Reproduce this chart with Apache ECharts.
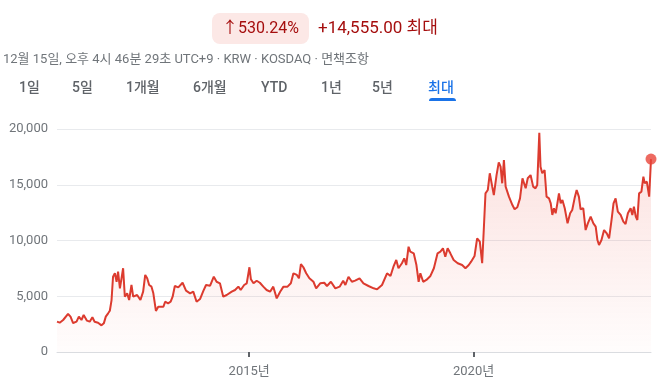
<!DOCTYPE html>
<html><head><meta charset="utf-8">
<script src="https://cdn.jsdelivr.net/npm/echarts@6/dist/echarts.min.js"></script>
<style>html,body{margin:0;padding:0;background:#fff}#c{width:666px;height:384px}</style>
</head><body><div id="c"></div>
<script>
const dates = ["2010-09-20","2010-10-12","2010-11-09","2010-12-19","2011-01-08","2011-01-29","2011-02-26","2011-03-17","2011-04-07","2011-04-25","2011-05-22","2011-06-13","2011-07-05","2011-07-23","2011-08-20","2011-09-17","2011-10-06","2011-10-22","2011-11-10","2011-11-24","2011-12-08","2011-12-20","2012-01-04","2012-01-18","2012-01-30","2012-02-14","2012-02-27","2012-03-11","2012-03-25","2012-04-13","2012-04-29","2012-05-18","2012-06-01","2012-07-03","2012-07-30","2012-08-21","2012-09-07","2012-09-23","2012-10-09","2012-10-28","2012-11-12","2012-12-03","2012-12-22","2013-02-02","2013-02-16","2013-03-12","2013-04-02","2013-04-18","2013-05-06","2013-06-03","2013-07-08","2013-08-05","2013-09-07","2013-10-03","2013-10-30","2013-11-27","2013-12-24","2014-01-15","2014-02-17","2014-03-19","2014-04-11","2014-05-08","2014-06-04","2014-07-02","2014-08-12","2014-09-08","2014-10-05","2014-10-24","2014-11-21","2014-12-12","2015-01-03","2015-01-15","2015-02-05","2015-03-03","2015-03-29","2015-04-26","2015-05-23","2015-06-20","2015-07-16","2015-08-13","2015-09-10","2015-10-07","2015-11-09","2015-12-06","2015-12-27","2016-01-24","2016-02-10","2016-02-26","2016-03-17","2016-04-09","2016-05-05","2016-06-07","2016-06-29","2016-08-01","2016-09-03","2016-09-25","2016-10-27","2016-12-02","2017-01-06","2017-02-04","2017-02-22","2017-03-19","2017-04-16","2017-05-12","2017-06-17","2017-07-19","2017-08-29","2017-10-10","2017-11-07","2017-12-17","2018-01-27","2018-02-24","2018-03-20","2018-04-12","2018-04-30","2018-05-28","2018-06-16","2018-07-02","2018-07-21","2018-08-04","2018-09-01","2018-09-23","2018-10-11","2018-10-25","2018-11-17","2018-12-13","2019-01-15","2019-02-12","2019-03-14","2019-04-06","2019-04-27","2019-05-16","2019-06-04","2019-06-26","2019-07-23","2019-08-25","2019-09-30","2019-10-27","2019-11-23","2019-12-12","2020-01-09","2020-01-30","2020-02-21","2020-03-11","2020-03-24","2020-04-07","2020-04-26","2020-05-12","2020-06-01","2020-06-14","2020-07-06","2020-07-24","2020-08-08","2020-08-21","2020-09-04","2020-09-18","2020-10-02","2020-10-15","2020-10-28","2020-11-12","2020-11-30","2020-12-22","2021-01-13","2021-02-02","2021-02-15","2021-02-28","2021-03-17","2021-04-09","2021-04-30","2021-05-19","2021-06-02","2021-06-19","2021-06-29","2021-07-13","2021-08-01","2021-08-17","2021-09-06","2021-09-20","2021-10-03","2021-10-16","2021-10-30","2021-11-13","2021-11-26","2021-12-10","2021-12-24","2022-01-12","2022-02-04","2022-02-25","2022-03-14","2022-04-02","2022-04-19","2022-05-07","2022-05-21","2022-06-12","2022-07-01","2022-07-19","2022-08-11","2022-09-02","2022-09-21","2022-10-05","2022-10-18","2022-11-07","2022-11-28","2022-12-20","2023-01-08","2023-01-28","2023-02-13","2023-03-02","2023-03-20","2023-04-12","2023-05-04","2023-05-22","2023-06-10","2023-07-02","2023-07-16","2023-07-29","2023-08-13","2023-08-26","2023-09-09","2023-09-28","2023-10-14","2023-10-25","2023-11-11","2023-11-30","2023-12-15"];
const prices = [2720,2630,2870,3410,3170,2600,2720,3170,2870,3320,2810,2720,3110,2720,2630,2390,2570,3170,3470,3700,4660,6750,7060,6300,7200,5710,6610,7510,4960,5260,4660,6010,4960,5110,4660,5410,6910,6610,6010,5860,5260,3680,4060,4060,4510,4370,4510,4960,5920,5800,6210,5500,5260,5410,4510,4750,5480,6010,5950,6750,6300,6160,4960,5110,5410,5560,5860,5560,6010,6160,7600,6520,6160,6390,6210,5860,5560,5410,5860,4810,5410,5860,5860,6160,7060,6910,6610,7890,7600,7060,6610,6300,5710,6160,6210,5920,6300,5710,5860,6390,6010,6750,6300,6400,6610,6160,5920,5710,5620,6010,7060,6820,7650,8250,7510,7960,8400,7800,9440,9000,8850,7800,6300,7060,6300,6460,6820,7510,8850,9000,9300,8550,9300,8850,8250,7960,7800,7510,7800,8100,8610,10200,9890,7960,10940,14230,14530,16030,14830,14080,15870,17000,16620,15130,17220,14830,14980,13930,13780,13180,12800,12980,13780,15580,15430,14680,15580,15870,14830,14680,14980,19670,16620,16030,16320,13930,13780,13330,12290,12890,12440,13330,14230,13330,13630,12890,11540,12440,12740,13780,14530,13930,12800,12890,10940,11540,12140,11540,11240,10040,9600,10040,10940,10640,10200,11840,13330,13780,12590,12290,11690,11480,12440,12890,12290,13030,12140,11840,14230,14380,15730,15130,15280,13930,17300];
const yTicks = [0, 5000, 10000, 15000, 20000];
const xTickYears = [2015, 2020];
const tabs = ["1일","5일","1개월","6개월","YTD","1년","5년","최대"];
const headline = {change: "↑530.24%", abs: "+14,555.00 최대"};
const subtitle = "12월 15일, 오후 4시 46분 29초 UTC+9 · KRW · KOSDAQ · 면책조항";

const FONT = "Roboto, 'Noto Sans CJK KR', sans-serif";
const RED = '#dc3b2f';
const tabX = [19, 72, 126, 193, 261, 321, 372, 428];

const chart = echarts.init(document.getElementById('c'));
const ts = d => Date.parse(d + 'T00:00:00Z');
const data = dates.map((d, i) => [ts(d), prices[i]]);
const xTickVals = xTickYears.map(y => Date.UTC(y, 0, 1));

const graphics = [
  {type:'rect', shape:{x:212, y:13, width:97, height:31, r:8}, style:{fill:'#fce8e6'}},
  {type:'text', x:222, y:29, style:{text:headline.change, font:'16px ' + FONT, fill:'#a50e0e', verticalAlign:'middle'}},
  {type:'text', x:318, y:29, style:{text:headline.abs, font:'17px ' + FONT, fill:'#a50e0e', verticalAlign:'middle'}},
  {type:'text', x:3, y:60, style:{text:subtitle, font:'13px ' + FONT, fill:'#70757a', verticalAlign:'middle'}},
  {type:'rect', shape:{x:429, y:98, width:27, height:3, r:[3,3,0,0]}, style:{fill:'#1a73e8'}}
];
tabs.forEach((t, i) => {
  graphics.push({type:'text', x:tabX[i], y:88, style:{text:t, font:'500 14px ' + FONT,
    fill: i === tabs.length - 1 ? '#1a73e8' : '#5f6368', verticalAlign:'middle'}});
});

chart.setOption({
  animation:false,
  grid:{left:57, right:15, top:129, bottom:32, containLabel:false},
  xAxis:{
    type:'value', min:ts(dates[0]), max:ts(dates[dates.length-1]),
    axisLine:{lineStyle:{color:'#dadce0', width:1}},
    axisTick:{show:true, customValues:xTickVals, length:5, lineStyle:{color:'#5f6368', width:2}},
    axisLabel:{customValues:xTickVals, formatter:v => new Date(v).getUTCFullYear() + '년',
      color:'#70757a', fontSize:13, fontFamily:FONT, margin:13},
    splitLine:{show:false}
  },
  yAxis:{
    type:'value', min:yTicks[0], max:yTicks[yTicks.length-1], interval:yTicks[1]-yTicks[0],
    axisLine:{show:false}, axisTick:{show:false},
    axisLabel:{formatter:v => v.toLocaleString('en-US'), color:'#70757a', fontSize:13, fontFamily:FONT, margin:9},
    splitLine:{lineStyle:{color:'#e8eaed'}}
  },
  series:[
    {type:'line', data:data, showSymbol:false, symbol:'none',
      lineStyle:{color:RED, width:2}, itemStyle:{color:RED},
      areaStyle:{color:new echarts.graphic.LinearGradient(0,0,0,1,[
        {offset:0, color:'rgba(234,67,53,0.24)'},{offset:1, color:'rgba(234,67,53,0.02)'}])}},
    {type:'scatter', data:[data[data.length-1]], symbolSize:11, itemStyle:{color:'#e8453a'}, z:5}
  ],
  graphic:graphics
});
</script></body></html>
